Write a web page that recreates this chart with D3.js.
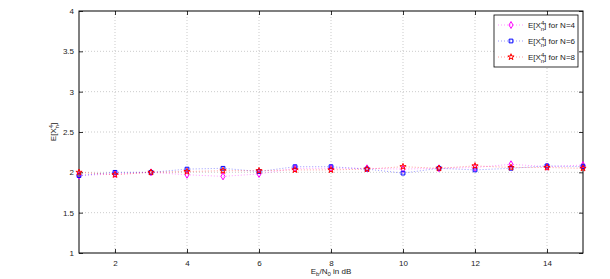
<!DOCTYPE html>
<html lang="en">
<head>
<meta charset="UTF-8" />
<title>E[X^4] vs Eb/N0</title>
<script src="https://d3js.org/d3.v7.min.js"></script>
<style>
    body { margin: 0; background: #fff; font-family: "Liberation Sans", Arial, sans-serif; }
    svg { display: block; }
    .tick text { font-size: 8px; fill: #222; }
    .lbl { font-size: 8px; fill: #222; }
</style>
</head>
<body>
<script>
    // data
    const snr = [1, 2, 3, 4, 5, 6, 7, 8, 9, 10, 11, 12, 13, 14, 15];
    const n4 = [1.96, 1.98, 2.0, 1.97, 1.95, 1.98, 2.05, 2.05, 2.05, 2.04, 2.05, 2.06, 2.10, 2.07, 2.09];
    const n6 = [1.96, 2.0, 2.0, 2.04, 2.05, 2.01, 2.07, 2.07, 2.04, 1.99, 2.05, 2.03, 2.05, 2.08, 2.07];
    const n8 = [2.0, 1.97, 2.0, 2.01, 2.02, 2.02, 2.03, 2.03, 2.04, 2.07, 2.05, 2.08, 2.06, 2.06, 2.05];
    const xTicks = [2, 4, 6, 8, 10, 12, 14];
    const yTicks = [1, 1.5, 2, 2.5, 3, 3.5, 4];

    const series = [
        { name: 'N=4', values: n4, color: '#ff00ff', symbol: d3.symbolDiamond, size: 14 },
        { name: 'N=6', values: n6, color: '#0000ff', symbol: d3.symbolSquare, size: 14 },
        { name: 'N=8', values: n8, color: '#ff0000', symbol: d3.symbolStar, size: 12 }
    ];

    const W = 610, H = 279;
    const m = { left: 79, right: 27, top: 11, bottom: 26 };

    const svg = d3.select('body').append('svg').attr('width', W).attr('height', H);

    const x = d3.scaleLinear().domain([1, 15]).range([m.left, W - m.right]);
    const y = d3.scaleLinear().domain([1, 4]).range([H - m.bottom, m.top]);

    // grid
    svg.append('g').selectAll('line').data(xTicks).enter().append('line')
        .attr('x1', d => x(d)).attr('x2', d => x(d))
        .attr('y1', m.top).attr('y2', H - m.bottom)
        .attr('stroke', '#aaa').attr('stroke-width', 0.6).attr('stroke-dasharray', '1,2');
    svg.append('g').selectAll('line').data(yTicks.slice(1, -1)).enter().append('line')
        .attr('x1', m.left).attr('x2', W - m.right)
        .attr('y1', d => y(d)).attr('y2', d => y(d))
        .attr('stroke', '#aaa').attr('stroke-width', 0.6).attr('stroke-dasharray', '1,2');

    // axes (ticks pointing inward, matlab style)
    svg.append('g').attr('transform', `translate(0,${H - m.bottom})`)
        .call(d3.axisBottom(x).tickValues(xTicks).tickSizeInner(-4).tickSizeOuter(0).tickPadding(7));
    svg.append('g').attr('transform', `translate(${m.left},0)`)
        .call(d3.axisLeft(y).tickValues(yTicks).tickFormat(d3.format('')).tickSizeInner(-4).tickSizeOuter(0).tickPadding(5));
    svg.append('g').attr('transform', `translate(0,${m.top})`)
        .call(d3.axisTop(x).tickValues(xTicks).tickSizeInner(-4).tickSizeOuter(0).tickFormat(''));
    svg.append('g').attr('transform', `translate(${W - m.right},0)`)
        .call(d3.axisRight(y).tickValues(yTicks).tickSizeInner(-4).tickSizeOuter(0).tickFormat(''));
    svg.selectAll('.domain').remove();
    svg.selectAll('.tick line').attr('stroke', '#000').attr('stroke-width', 0.8);

    svg.append('rect')
        .attr('x', m.left).attr('y', m.top)
        .attr('width', W - m.left - m.right).attr('height', H - m.top - m.bottom)
        .attr('fill', 'none').attr('stroke', '#000').attr('stroke-width', 1);

    // lines + markers
    const line = d3.line().x((d, i) => x(snr[i])).y(d => y(d));
    series.forEach(s => {
        svg.append('path').datum(s.values)
            .attr('d', line)
            .attr('fill', 'none').attr('stroke', s.color).attr('stroke-opacity', 0.5)
            .attr('stroke-width', 0.8).attr('stroke-dasharray', '1,2');
        svg.append('g').selectAll('path').data(s.values).enter().append('path')
            .attr('transform', (d, i) => `translate(${x(snr[i])},${y(d)})`)
            .attr('d', d3.symbol().type(s.symbol).size(s.size))
            .attr('fill', 'none').attr('stroke', s.color).attr('stroke-width', 1);
    });

    // axis labels
    const xl = svg.append('text').attr('class', 'lbl')
        .attr('x', x(8)).attr('y', H - 5).attr('text-anchor', 'middle');
    xl.append('tspan').text('E');
    xl.append('tspan').attr('font-size', 6).attr('dy', 2).text('b');
    xl.append('tspan').attr('dy', -2).text('/N');
    xl.append('tspan').attr('font-size', 6).attr('dy', 2).text('0');
    xl.append('tspan').attr('dy', -2).text(' in dB');

    const yl = svg.append('text').attr('class', 'lbl')
        .attr('transform', `translate(56,${y(2.5)}) rotate(-90)`).attr('text-anchor', 'middle');
    yl.append('tspan').text('E[X');
    yl.append('tspan').attr('font-size', 6).attr('dy', -3).text('4');
    yl.append('tspan').attr('font-size', 6).attr('dx', -3.5).attr('dy', 6).text('n');
    yl.append('tspan').attr('dy', -3).text(']');

    // legend
    const lg = svg.append('g').attr('transform', 'translate(494,15)');
    lg.append('rect').attr('width', 84).attr('height', 52)
        .attr('fill', '#fff').attr('stroke', '#000').attr('stroke-width', 0.8);
    series.forEach((s, i) => {
        const gy = 10 + i * 16;
        lg.append('line').attr('x1', 4).attr('x2', 30).attr('y1', gy).attr('y2', gy)
            .attr('stroke', s.color).attr('stroke-opacity', 0.5).attr('stroke-width', 0.8).attr('stroke-dasharray', '1,2');
        lg.append('path').attr('transform', `translate(17,${gy})`)
            .attr('d', d3.symbol().type(s.symbol).size(s.size))
            .attr('fill', 'none').attr('stroke', s.color).attr('stroke-width', 1);
        const t = lg.append('text').attr('class', 'lbl').attr('x', 34).attr('y', gy + 3);
        t.append('tspan').text('E[X');
        t.append('tspan').attr('font-size', 6).attr('dy', -3).text('4');
        t.append('tspan').attr('font-size', 6).attr('dx', -3.5).attr('dy', 6).text('n');
        t.append('tspan').attr('dy', -3).text('] for ' + s.name);
    });
</script>
</body>
</html>
